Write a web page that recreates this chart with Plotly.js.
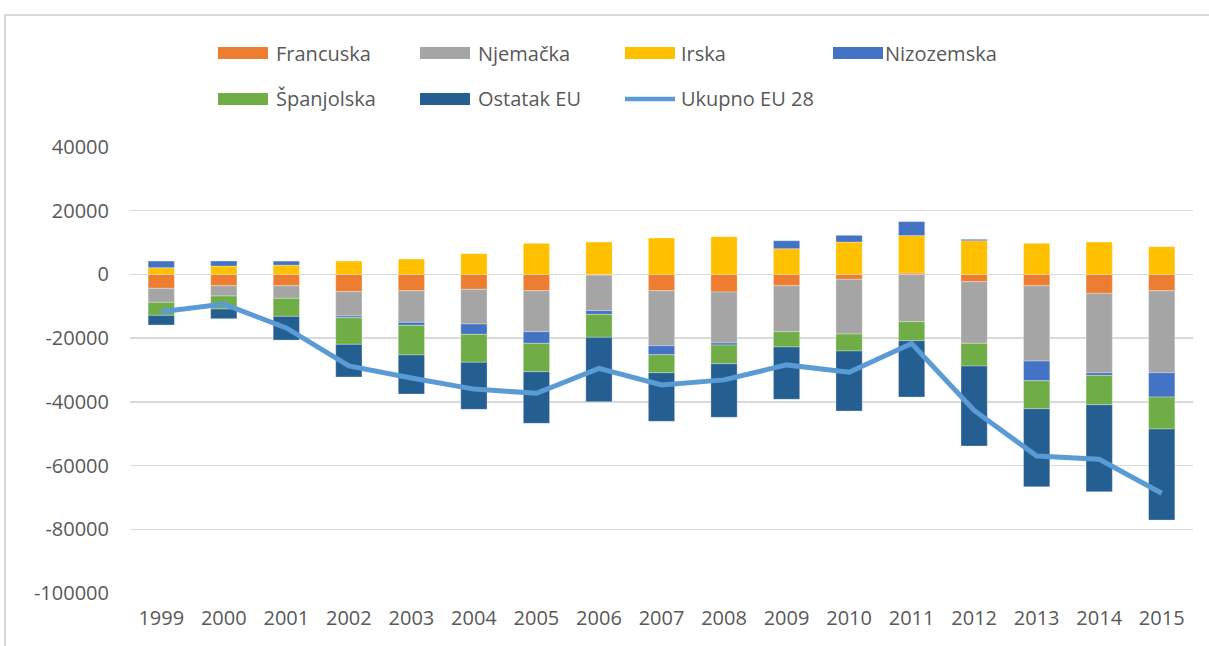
<!DOCTYPE html>
<html>
<head>
<meta charset="utf-8">
<script src="https://cdn.plot.ly/plotly-3.0.1.min.js"></script>
<style>html,body{margin:0;padding:0;background:#fff;}#chart{width:1209px;height:646px;}</style>
</head>
<body>
<div id="chart"></div>
<script>
const years = ['1999','2000','2001','2002','2003','2004','2005','2006','2007','2008','2009','2010','2011','2012','2013','2014','2015'];
const francuska  = [-4360, -3550, -3550, -5430, -5120, -4680, -5120, -200, -5120, -5520, -3550, -1540, 450, -2290, -3550, -5930, -5120];
const njemacka   = [-4400, -3230, -3960, -7630, -9920, -10890, -12870, -11170, -17260, -16010, -14440, -17170, -14850, -19340, -23640, -24920, -25740];
const irska      = [2100, 2640, 2920, 4200, 4830, 6500, 9760, 10170, 11430, 11830, 8070, 10170, 11740, 10580, 9760, 10170, 8700];
const nizozemska = [2100, 1570, 1260, -530, -940, -3230, -3640, -1160, -2830, -630, 2510, 2100, 4390, 440, -6180, -820, -7630];
const spanjolska = [-4080, -4080, -5650, -8350, -9320, -8790, -8910, -7220, -5650, -5870, -4800, -5340, -5960, -7130, -8790, -9230, -10040];
const ostatak    = [-3040, -3040, -7440, -10260, -12240, -14750, -16200, -20180, -15260, -16830, -16420, -18830, -17680, -25110, -24480, -27310, -28560];
const ukupno     = [-11700, -9300, -16800, -28700, -32500, -36000, -37300, -29500, -34700, -33100, -28400, -30700, -21700, -42700, -57000, -58000, -68700];
const yTickVals  = [40000, 20000, 0, -20000, -40000, -60000, -80000, -100000];
const yTickText  = ['40000', '20000', '0', '-20000', '-40000', '-60000', '-80000', '-100000'];
const seriesNames = ['Francuska', 'Njemačka', 'Irska', 'Nizozemska', 'Španjolska', 'Ostatak EU', 'Ukupno EU 28'];

const colors = ['#ed7d31', '#a5a5a5', '#ffc000', '#4472c4', '#70ad47', '#255e91', '#5b9bd5'];
const barData = [francuska, njemacka, irska, nizozemska, spanjolska, ostatak];

const traces = barData.map((vals, i) => ({
  type: 'bar', x: years, y: vals, name: seriesNames[i],
  marker: {color: colors[i], line: {color: 'rgba(255,255,255,0.5)', width: 0.6}},
  showlegend: false
}));
traces.push({
  type: 'scatter', mode: 'lines', x: years, y: ukupno, name: seriesNames[6],
  line: {color: colors[6], width: 5}, showlegend: false
});

// plot area in pixels
const L = 130, R = 1193, T = 147, B = 593;
const px = p => (p - L) / (R - L);
const py = p => (B - p) / (B - T);

const shapes = [{
  type: 'rect', xref: 'paper', yref: 'paper',
  x0: px(5), x1: px(1215), y0: py(652), y1: py(15),
  line: {color: '#d9d9d9', width: 2}, fillcolor: 'rgba(0,0,0,0)', layer: 'below'
}];
const annotations = [];
const legendPos = [
  {sx: 218, tx: 274, y: 53}, {sx: 420, tx: 476, y: 53}, {sx: 625, tx: 679, y: 53}, {sx: 833, tx: 883, y: 53},
  {sx: 218, tx: 274, y: 99}, {sx: 420, tx: 476, y: 99}, {sx: 625, tx: 679, y: 99}
];
seriesNames.forEach((nm, i) => {
  const p = legendPos[i];
  if (i < 6) {
    shapes.push({type: 'rect', xref: 'paper', yref: 'paper',
      x0: px(p.sx), x1: px(p.sx + 50), y0: py(p.y + 6), y1: py(p.y - 6),
      line: {width: 0}, fillcolor: colors[i]});
  } else {
    shapes.push({type: 'line', xref: 'paper', yref: 'paper',
      x0: px(p.sx), x1: px(p.sx + 50), y0: py(p.y), y1: py(p.y),
      line: {width: 4.5, color: colors[i]}});
  }
  annotations.push({xref: 'paper', yref: 'paper', x: px(p.tx), y: py(p.y),
    xanchor: 'left', yanchor: 'middle', showarrow: false, text: nm,
    font: {family: 'Open Sans, sans-serif', size: 20, color: '#595959'}});
});

const layout = {
  width: 1209, height: 646,
  margin: {l: L, r: 1209 - R, t: T, b: 646 - B},
  paper_bgcolor: '#ffffff', plot_bgcolor: '#ffffff',
  barmode: 'relative', bargap: 0.58,
  showlegend: false,
  font: {family: 'Open Sans, sans-serif', size: 20, color: '#595959'},
  xaxis: {type: 'category', showgrid: false, zeroline: false, showline: false,
    ticks: '', ticklabelstandoff: 11, tickfont: {size: 20, color: '#595959'}},
  yaxis: {range: [-100000, 40000], tickvals: yTickVals, ticktext: yTickText,
    showgrid: true, gridcolor: '#d9d9d9', gridwidth: 1.3, zeroline: false, showline: false,
    ticks: '', ticklabelstandoff: 20, tickfont: {size: 20, color: '#595959'}},
  shapes: shapes, annotations: annotations
};
Plotly.newPlot('chart', traces, layout, {displayModeBar: false, staticPlot: true});
</script>
</body>
</html>
